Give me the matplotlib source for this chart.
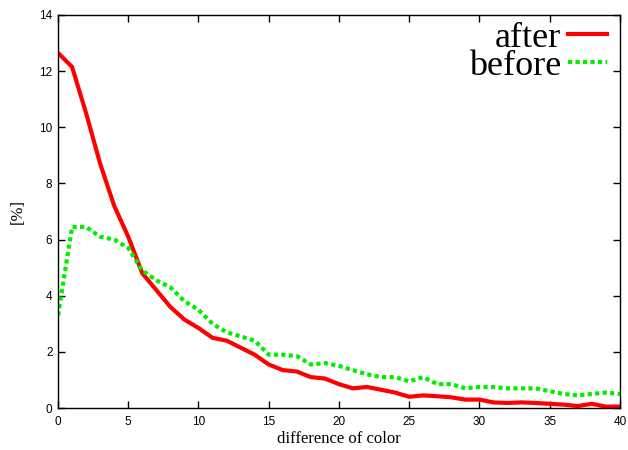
import matplotlib
matplotlib.use("Agg")
import matplotlib.pyplot as plt
import numpy as np

diff = np.arange(0, 41)
after = [12.65, 12.15, 10.5, 8.7, 7.2, 6.1, 4.8, 4.2, 3.6, 3.15,
         2.85, 2.5, 2.4, 2.15, 1.9, 1.55, 1.35, 1.3, 1.1, 1.05,
         0.85, 0.7, 0.75, 0.65, 0.55, 0.4, 0.45, 0.42, 0.38, 0.3,
         0.3, 0.2, 0.18, 0.2, 0.18, 0.15, 0.12, 0.07, 0.15, 0.05, 0.05]
before = [3.3, 6.45, 6.45, 6.1, 6.0, 5.7, 4.9, 4.55, 4.3, 3.8,
          3.5, 3.0, 2.7, 2.55, 2.4, 1.9, 1.9, 1.85, 1.55, 1.6,
          1.5, 1.35, 1.2, 1.1, 1.1, 0.95, 1.1, 0.85, 0.85, 0.7,
          0.75, 0.75, 0.7, 0.7, 0.7, 0.6, 0.5, 0.45, 0.5, 0.55, 0.5]

fig = plt.figure(figsize=(6.28, 4.5), dpi=100)
ax = fig.add_axes([0.0924, 0.0933, 0.8946, 0.8734])

ax.plot(diff, after, color="#ff0000", lw=3, label="after", solid_joinstyle="miter")
ax.plot(diff, before, color="#00ee00", lw=3, linestyle=(0, (1, 0.8)),
        dash_capstyle="butt", label="before")

ax.set_xlim(0, 40)
ax.set_ylim(0, 14)
ax.set_xticks(range(0, 41, 5))
ax.set_yticks(range(0, 15, 2))
ax.tick_params(direction="in", top=True, right=True, length=5, width=1,
               labelsize=8.5, pad=4)
ax.tick_params(axis="x", pad=6)
for lbl in ax.get_xticklabels() + ax.get_yticklabels():
    lbl.set_family("Liberation Sans")
for s in ax.spines.values():
    s.set_linewidth(1)

ax.set_xlabel("difference of color", family="Liberation Serif", fontsize=12, labelpad=2)
ax.set_ylabel("[%]", family="Liberation Serif", fontsize=12, labelpad=10)

leg = ax.legend(loc="upper right", markerfirst=False, frameon=False,
                prop={"family": "Liberation Serif", "size": 26},
                handlelength=1.08, handletextpad=0.17, labelspacing=-0.15,
                borderaxespad=0.0, bbox_to_anchor=(1.002, 1.02))

fig.savefig("out.png", dpi=100)
